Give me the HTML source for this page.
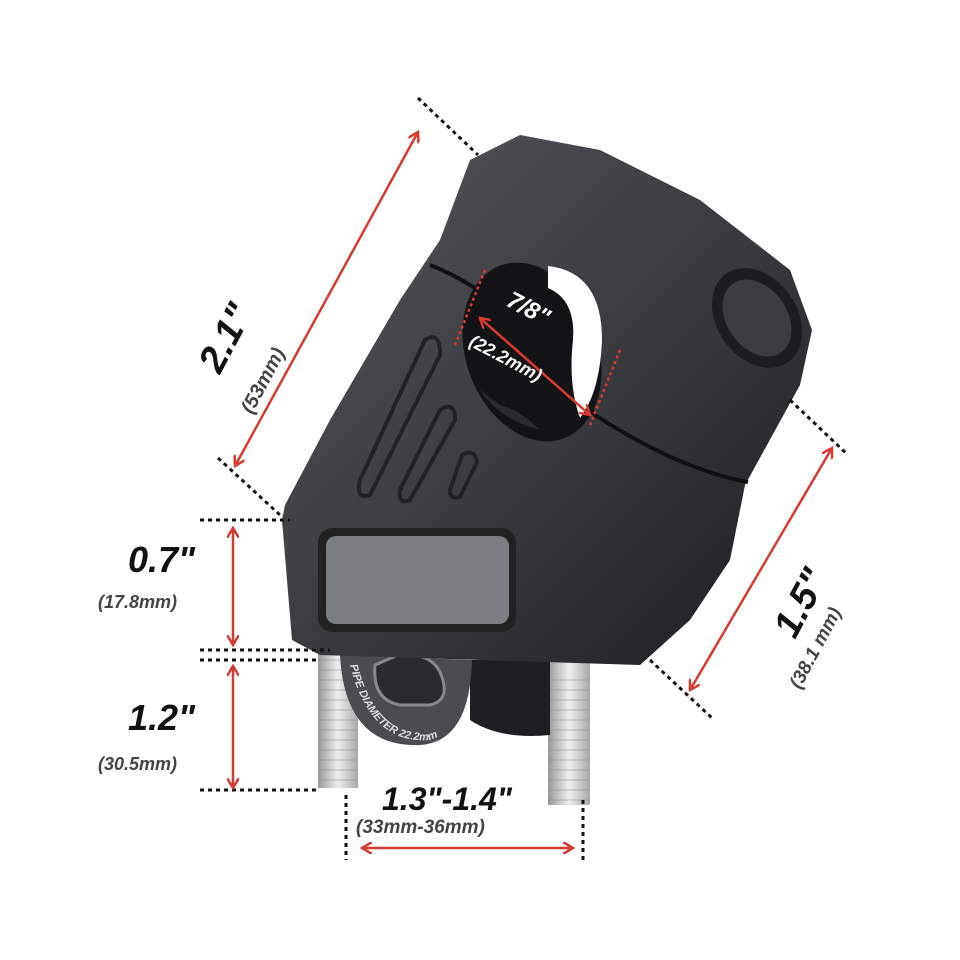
<!DOCTYPE html>
<html><head><meta charset="utf-8"><style>
html,body{margin:0;padding:0;background:#fff;width:960px;height:960px;overflow:hidden}
svg{display:block}
text{font-family:"Liberation Sans",sans-serif;font-weight:bold;font-style:italic}
</style></head><body>
<svg width="960" height="960" viewBox="0 0 960 960" xmlns="http://www.w3.org/2000/svg">
<defs>
<linearGradient id="bd" x1="0" y1="0" x2="1" y2="1">
<stop offset="0" stop-color="#55575b"/><stop offset="0.5" stop-color="#3a3c40"/><stop offset="1" stop-color="#1c1d20"/></linearGradient>
<linearGradient id="bolt" x1="0" y1="0" x2="1" y2="0">
<stop offset="0" stop-color="#999"/><stop offset="0.5" stop-color="#eee"/><stop offset="1" stop-color="#aaa"/></linearGradient>
<marker id="ar" markerWidth="12" markerHeight="12" refX="10" refY="6" orient="auto-start-reverse" markerUnits="userSpaceOnUse">
<path d="M0,0 L10,6 L0,12" fill="none" stroke="#d63a32" stroke-width="2.5"/></marker>
<path id="arcp" d="M350,665 Q370,745 430,740 Q465,730 465,665"/>
</defs>
<rect x="318" y="640" width="40" height="148" fill="url(#bolt)"/>
<rect x="548" y="640" width="42" height="165" fill="url(#bolt)"/>
<g stroke="#888" stroke-width="1" opacity="0.5">
<path d="M318,660h40M318,670h40M318,680h40M318,690h40M318,700h40M318,710h40M318,720h40M318,730h40M318,740h40M318,750h40M318,760h40M318,770h40M318,780h40"/>
<path d="M548,680h42M548,690h42M548,700h42M548,710h42M548,720h42M548,730h42M548,740h42M548,750h42M548,760h42M548,770h42M548,780h42M548,790h42M548,800h42"/>
</g>
<path d="M470,660 L550,660 L550,735 Q500,740 470,720Z" fill="#1e1f22"/>
<path d="M340,655 Q345,748 420,745 Q470,742 472,660 Z" fill="#4a4c50"/>
<path d="M375,665 Q372,700 400,705 L430,705 Q452,700 440,672 Q430,652 398,655Z" fill="#2a2b2e" stroke="#888" stroke-width="3"/>
<text font-size="11" font-style="normal" font-weight="normal" fill="#ddd"><textPath href="#arcp">PIPE DIAMETER 22.2mm</textPath></text>
<path d="M285,505 L330,420 L400,300 L440,240 L470,160 L520,135 L600,150 L700,200 L790,270 L812,330 L800,385 L745,485 L730,560 L690,620 L640,665 L320,655 L292,640 L282,520 Z" fill="url(#bd)"/>
<path d="M430,265 Q520,300 595,415 Q680,470 748,482" fill="none" stroke="#111" stroke-width="4"/>
<ellipse cx="757" cy="318" rx="40" ry="54" transform="rotate(-35 757 318)" fill="#1c1d20"/>
<ellipse cx="757" cy="318" rx="30" ry="42" transform="rotate(-35 757 318)" fill="#3a3c3f"/>
<!-- hole -->
<ellipse cx="532" cy="352" rx="66" ry="92" transform="rotate(-20 532 352)" fill="#141416"/>
<path d="M548,266 Q602,272 602,340 Q600,392 580,418 Q568,385 573,340 Q576,300 548,288 Z" fill="#fff"/>
<path d="M480,390 Q500,420 540,430 Q520,410 500,405 Z" fill="#2a2b2e"/>
<g fill="none" stroke="#222" stroke-width="4">
<path d="M425,340 L360,480 Q355,500 370,495 L440,355 Q440,330 425,340Z"/>
<path d="M440,410 L400,490 Q398,505 410,500 L455,420 Q455,400 440,410Z"/>
<path d="M462,455 L450,490 Q450,500 460,497 L477,462 Q475,448 462,455Z"/>
</g>
<rect x="318" y="528" width="198" height="104" rx="14" fill="#222"/>
<rect x="326" y="536" width="183" height="88" rx="10" fill="#7a7d81"/>
<g stroke="#111" stroke-width="3" stroke-dasharray="4,4" fill="none">
<path d="M418,98 L478,155"/><path d="M218,458 L280,515"/>
<path d="M790,400 L848,455"/><path d="M650,660 L712,718"/>
<path d="M200,520 L290,520"/><path d="M200,650 L330,650"/><path d="M200,660 L320,660"/>
<path d="M200,790 L320,790"/>
<path d="M346,795 L346,860"/><path d="M583,800 L583,860"/>
</g>
<g stroke="#d63a32" stroke-width="2.5" stroke-dasharray="3,3" fill="none">
<path d="M485,270 L455,345"/><path d="M620,350 L590,425"/>
</g>
<g stroke="#d63a32" stroke-width="2.5" fill="none">
<line x1="235" y1="466" x2="418" y2="132" marker-start="url(#ar)" marker-end="url(#ar)"/>
<line x1="690" y1="690" x2="832" y2="448" marker-start="url(#ar)" marker-end="url(#ar)"/>
<line x1="233" y1="528" x2="233" y2="645" marker-start="url(#ar)" marker-end="url(#ar)"/>
<line x1="233" y1="666" x2="233" y2="788" marker-start="url(#ar)" marker-end="url(#ar)"/>
<line x1="362" y1="848" x2="573" y2="848" marker-start="url(#ar)" marker-end="url(#ar)"/>
<line x1="480" y1="318" x2="590" y2="415" marker-start="url(#ar)" marker-end="url(#ar)"/>
</g>
<text transform="translate(220,375) rotate(-62)" font-size="38" fill="#111">2.1"</text>
<text transform="translate(252,415) rotate(-62)" font-size="20" fill="#444">(53mm)</text>
<text transform="translate(795,640) rotate(-62)" font-size="38" fill="#111">1.5"</text>
<text transform="translate(800,690) rotate(-62)" font-size="19" fill="#444">(38.1 mm)</text>
<text x="128" y="572" font-size="36" fill="#111">0.7"</text>
<text x="98" y="608" font-size="18" fill="#444">(17.8mm)</text>
<text x="128" y="730" font-size="36" fill="#111">1.2"</text>
<text x="98" y="770" font-size="18" fill="#444">(30.5mm)</text>
<text x="382" y="810" font-size="32" fill="#111">1.3"-1.4"</text>
<text x="356" y="833" font-size="19" fill="#444">(33mm-36mm)</text>
<text transform="translate(505,305) rotate(28)" font-size="24" fill="#fff">7/8"</text>
<text transform="translate(468,345) rotate(28)" font-size="18" fill="#fff">(22.2mm)</text>
</svg>
</body></html>
